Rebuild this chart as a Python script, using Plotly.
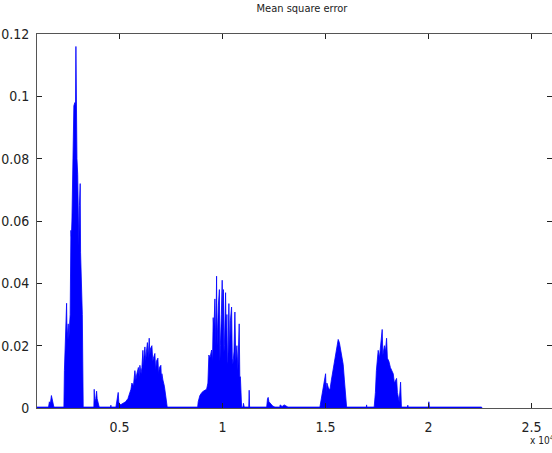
import plotly.graph_objects as go

# ---- data (sample index, mean square error) ----
pre_x = [1000, 1560, 1600, 1650, 1700, 1730, 1780, 1820, 1900, 2280]
pre_y = [0.0003, 0.0003, 0.002, 0.0015, 0.004, 0.003, 0.002, 0.0003, 0.0003, 0.0003]

c1_x = [2306, 2330, 2380, 2437, 2460, 2490, 2515, 2545, 2575, 2610, 2646, 2670, 2695,
        2720, 2743, 2770, 2790, 2840, 2870, 2889, 2905, 2940, 2975, 3010, 3030, 3060,
        3097, 3115, 3163, 3200, 3243]
c1_y = [0.0003, 0.012, 0.02, 0.0336, 0.022, 0.025, 0.027, 0.022, 0.026, 0.03, 0.057, 0.055,
        0.06, 0.07, 0.075, 0.09, 0.097, 0.098, 0.097, 0.116, 0.095, 0.08, 0.075, 0.066,
        0.052, 0.065, 0.072, 0.05, 0.04, 0.03, 0.0003]

mid_x = [3700, 3760, 3777, 3800, 3850, 3893, 3920, 4000, 4020, 4570, 4587, 4600, 4830,
         4860, 4942, 4970, 5000, 5100, 5170, 5300, 5413, 5510]
mid_y = [0.0003, 0.0003, 0.006, 0.002, 0.003, 0.0054, 0.003, 0.001, 0.0003, 0.0003,
         0.0009, 0.0003, 0.0003, 0.002, 0.005, 0.002, 0.001, 0.0012, 0.0015, 0.002,
         0.003, 0.005]

c2_x = [5560, 5607, 5680, 5752, 5800, 5849, 5922, 5960, 5995, 6050, 6092, 6141, 6170,
        6189, 6238, 6280, 6311, 6359, 6400, 6447, 6480, 6505, 6578, 6620, 6650, 6723,
        6760, 6796, 6869, 6900, 6942, 7014, 7040, 7063, 7112, 7184, 7257, 7320]
c2_y = [0.006, 0.008, 0.007, 0.012, 0.009, 0.011, 0.013, 0.01, 0.0137, 0.011, 0.013,
        0.0185, 0.013, 0.016, 0.0196, 0.015, 0.018, 0.021, 0.016, 0.0224, 0.017, 0.019,
        0.020, 0.015, 0.016, 0.0175, 0.012, 0.015, 0.016, 0.011, 0.013, 0.0137, 0.009,
        0.011, 0.009, 0.007, 0.0035, 0.0003]

c3_x = [8800, 8825, 8907, 9004, 9101, 9233, 9296, 9344, 9393, 9475, 9520, 9553, 9587,
        9636, 9680, 9718, 9740, 9757, 9805, 9854, 9880, 9902, 9950, 9990, 10020, 10048,
        10075, 10097, 10155, 10190, 10218, 10245, 10267, 10315, 10350, 10388, 10446,
        10480, 10510, 10560, 10607, 10650, 10704, 10752, 10815, 10845, 10874, 10932]
c3_y = [0.0003, 0.002, 0.004, 0.005, 0.0055, 0.006, 0.008, 0.017, 0.016, 0.0186, 0.015,
        0.029, 0.025, 0.035, 0.02, 0.0423, 0.02, 0.025, 0.033, 0.038, 0.015, 0.02, 0.03,
        0.041, 0.025, 0.038, 0.018, 0.02, 0.037, 0.02, 0.03, 0.014, 0.015, 0.0335, 0.018,
        0.028, 0.0324, 0.016, 0.014, 0.018, 0.0308, 0.015, 0.02, 0.012, 0.027, 0.01,
        0.01, 0.0003]

p3_x = [11000, 11020, 11060, 11280, 11300, 11320, 12150, 12190, 12222, 12260, 12350,
        12450, 12550, 12790, 12800, 12900, 13000, 13100, 13180, 14733]
p3_y = [0.0003, 0.0015, 0.0003, 0.0003, 0.0057, 0.0003, 0.0003, 0.003, 0.0034, 0.002,
        0.0012, 0.0006, 0.0003, 0.0003, 0.001, 0.0005, 0.001, 0.0005, 0.0003, 0.0003]

c5_x = [14805, 14878, 14951, 15009, 15040, 15072, 15145, 15218, 15291, 15364, 15436,
        15509, 15582, 15621, 15679, 15727, 15776, 15824, 15863, 15922, 15970, 16029]
c5_y = [0.003, 0.006, 0.008, 0.011, 0.005, 0.008, 0.0065, 0.0057, 0.009, 0.012, 0.015,
        0.018, 0.021, 0.022, 0.021, 0.019, 0.017, 0.0145, 0.014, 0.009, 0.004, 0.0003]

g5_x = [16990, 17000, 17010, 17368]
g5_y = [0.0003, 0.001, 0.0003, 0.0003]

c6_x = [17427, 17475, 17524, 17563, 17621, 17670, 17718, 17757, 17790, 17815, 17864,
        17912, 17970, 18009, 18082, 18155, 18228, 18292, 18350, 18398, 18456, 18495,
        18543, 18582, 18650, 18690]
c6_y = [0.005, 0.012, 0.016, 0.0185, 0.016, 0.019, 0.021, 0.0252, 0.017, 0.019, 0.02,
        0.018, 0.0224, 0.016, 0.015, 0.013, 0.012, 0.011, 0.008, 0.009, 0.0095, 0.005,
        0.003, 0.002, 0.0083, 0.0003]

tail_x = [18980, 19000, 19020, 20000, 20023, 20050, 22582, 22600]
tail_y = [0.0003, 0.0009, 0.0003, 0.0003, 0.002, 0.0003, 0.0003, 0.0]

x_tickvals = [5000, 10000, 15000, 20000, 25000]
x_ticktext = ["0.5", "1", "1.5", "2", "2.5"]
y_tickvals = [0, 0.02, 0.04, 0.06, 0.08, 0.1, 0.12]
y_ticktext = ["0", "0.02", "0.04", "0.06", "0.08", "0.1", "0.12"]

xs = pre_x + c1_x + mid_x + c2_x + c3_x + p3_x + c5_x + g5_x + c6_x + tail_x
ys = pre_y + c1_y + mid_y + c2_y + c3_y + p3_y + c5_y + g5_y + c6_y + tail_y

FONT = "DejaVu Sans Condensed, Liberation Sans Narrow, Liberation Sans, sans-serif"

fig = go.Figure()
fig.add_trace(go.Scatter(
    x=xs, y=ys, mode="lines", fill="tozeroy",
    line=dict(color="#0000FF", width=0.8),
    fillcolor="#0000FF", hoverinfo="skip", showlegend=False,
))

axis_common = dict(
    showgrid=False, zeroline=False, showline=True, linecolor="#555555", linewidth=1,
    mirror="ticks", ticks="inside", ticklen=5, tickcolor="#222222", tickwidth=1,
    automargin=False,
    tickfont=dict(family=FONT, size=14, color="#222222"),
)

fig.update_layout(
    width=552, height=453,
    margin=dict(l=37, r=0, t=34, b=45, autoexpand=False),
    paper_bgcolor="white", plot_bgcolor="white",
    xaxis=dict(range=[1000, 26000], tickvals=x_tickvals, ticktext=x_ticktext,
               ticklabelstandoff=6, **axis_common),
    yaxis=dict(range=[0, 0.12], tickvals=y_tickvals, ticktext=y_ticktext,
               ticklabelstandoff=4, **axis_common),
    title=dict(text="Mean square error", x=302 / 552, xref="container", xanchor="center",
               y=1 - 8 / 453, yref="container", yanchor="middle",
               font=dict(family=FONT, size=11, color="#222222")),
    annotations=[dict(text="x 10<sup>4</sup>", xref="paper", yref="paper",
                      x=(528 - 37) / 515, y=-(440 - 407.7) / 373.7,
                      xanchor="left", yanchor="middle", showarrow=False,
                      font=dict(family=FONT, size=10, color="#222222"))],
)

fig.write_html("out.html", config={"displayModeBar": False},
               post_script="document.body.style.margin='0';document.body.style.overflow='hidden';")
